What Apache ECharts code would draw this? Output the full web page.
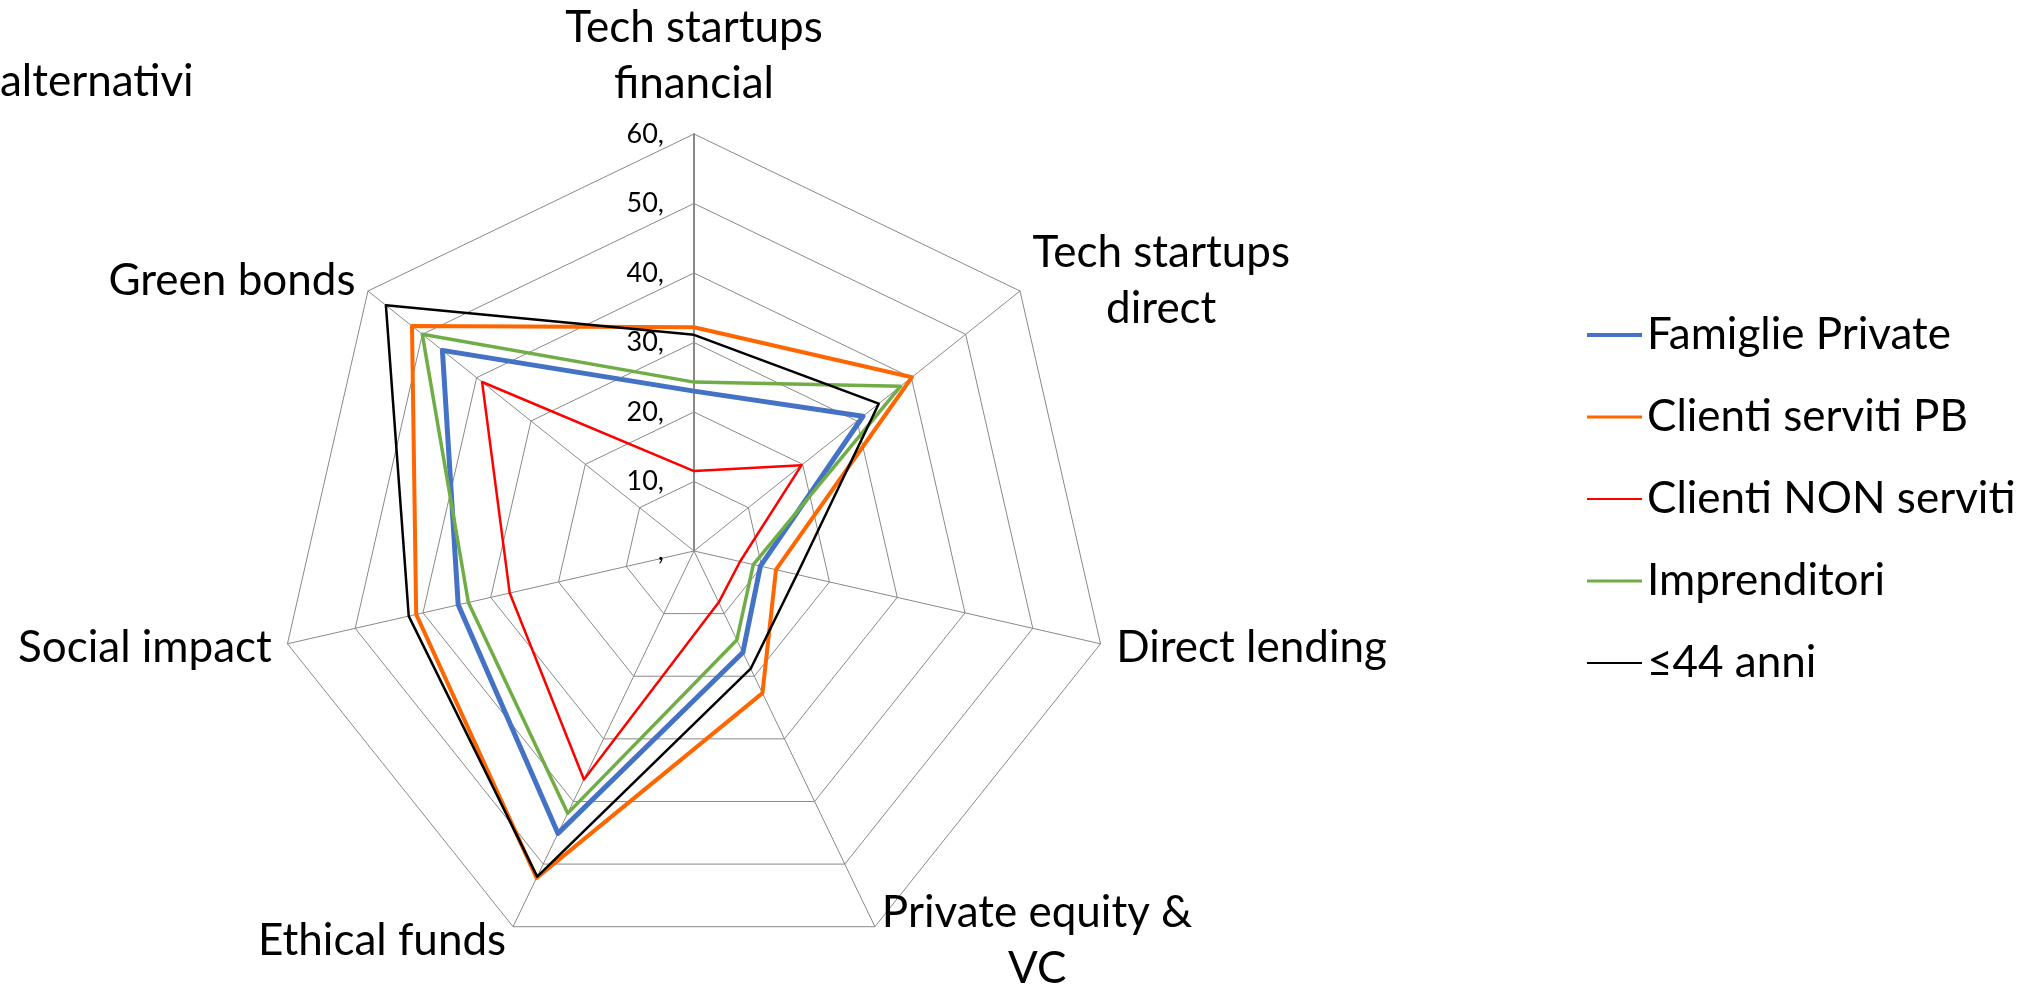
<!DOCTYPE html>
<html>
<head>
<meta charset="utf-8">
<script src="https://cdn.jsdelivr.net/npm/echarts@6/dist/echarts.min.js"></script>
<style>
  html, body { margin: 0; padding: 0; background: #fff; }
  #chart { width: 2031px; height: 987px; }
</style>
</head>
<body>
<div id="chart"></div>
<script>
// axes in the order they go round the chart, clockwise from the top
const categories = [
  "Tech startups\nfinancial",
  "Tech startups\ndirect",
  "Direct lending",
  "Private equity &\nVC",
  "Ethical funds",
  "Social impact",
  "Green bonds",
];
const seriesNames = [
  "Famiglie Private",
  "Clienti serviti PB",
  "Clienti NON serviti",
  "Imprenditori",
  "\u226444 anni",
];
const famigliePrivate = [23.0, 31.1, 9.8, 16.2, 45.1, 34.8, 46.3];
const clientiServitiPB = [32.2, 40.1, 12.1, 22.7, 52.2, 41.0, 51.9];
const clientiNonServiti = [11.5, 19.8, 6.8, 8.2, 36.5, 27.2, 39.0];
const imprenditori = [24.3, 38.0, 8.75, 14.2, 41.9, 33.3, 50.0];
const under44 = [31.1, 34.0, 15.2, 18.8, 52.0, 42.1, 56.7];
const axisMax = 60;
const chartTitle = "alternativi";

const colors = ["#4472C4", "#FF6600", "#FF0000", "#70AD47", "#000000"];
const widths = [5, 4, 2.5, 3.5, 2.5];
const legendThick = [4, 3, 2, 3, 2];
const values = [famigliePrivate, clientiServitiPB, clientiNonServiti, imprenditori, under44];

// echarts goes counter-clockwise, so keep the first axis and reverse the rest
const order = [0].concat(categories.map((c, i) => i).slice(1).reverse());

const font = "Lato";

var indicator = order.map(function (i) {
  var ind = { name: categories[i], max: axisMax, min: 0 };
  if (i === 0) {
    ind.axisLabel = { show: true };
    ind.axisLine = { lineStyle: { width: 2 } };
    ind.nameGap = 22;
  }
  return ind;
});

var option = {
  animation: false,
  title: {
    text: chartTitle,
    left: 0,
    top: 54,
    padding: 0,
    textStyle: {
      fontFamily: font,
      fontSize: 44,
      fontWeight: "normal",
      lineHeight: 56,
      color: "#000",
    },
  },
  legend: {
    orient: "vertical",
    left: 1587,
    top: 307,
    padding: 0,
    itemGap: 26,
    itemWidth: 55,
    itemHeight: 5,
    symbolKeepAspect: true,
    data: seriesNames.map(function (name, k) {
      return {
        name: name,
        icon: "path://M0,0h55v" + legendThick[k] + "h-55z",
      };
    }),
    textStyle: {
      fontFamily: font,
      fontSize: 44,
      lineHeight: 56,
      color: "#000",
    },
  },
  radar: {
    center: [694, 551],
    radius: 417,
    startAngle: 90,
    shape: "polygon",
    splitNumber: 6,
    indicator: indicator,
    nameGap: 16,
    axisName: {
      color: "#000",
      fontFamily: font,
      fontSize: 44,
      lineHeight: 56,
      formatter: function (value) {
        return value
          .split("\n")
          .map(function (s) {
            return "{c|" + s + "}";
          })
          .join("\n");
      },
      rich: {
        c: {
          align: "center",
          fontFamily: font,
          fontSize: 44,
          lineHeight: 56,
          color: "#000",
        },
      },
    },
    axisLine: { lineStyle: { color: "#898989", width: 1 } },
    splitLine: { lineStyle: { color: "#898989", width: 1 } },
    splitArea: { show: false },
    axisTick: { show: false },
    axisLabel: {
      show: false,
      fontFamily: font,
      fontSize: 27,
      color: "#000",
      margin: 30,
      formatter: function (v) {
        return v === 0 ? "," : v + ",";
      },
    },
  },
  series: [
    {
      type: "radar",
      symbol: "none",
      data: seriesNames.map(function (name, k) {
        return {
          name: name,
          value: order.map(function (i) {
            return values[k][i];
          }),
          itemStyle: { color: colors[k] },
          lineStyle: { color: colors[k], width: widths[k] },
        };
      }),
    },
  ],
};

var myChart = echarts.init(document.getElementById("chart"));
myChart.setOption(option);
</script>
</body>
</html>
